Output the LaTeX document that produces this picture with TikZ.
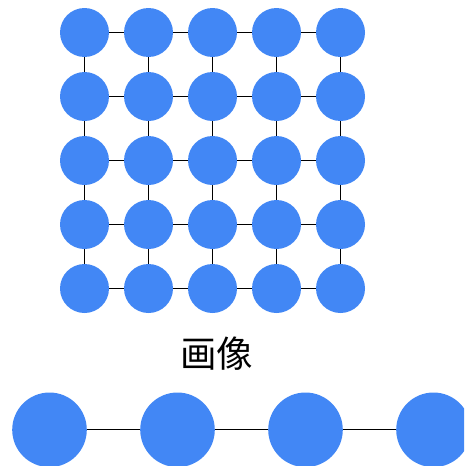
\documentclass[tikz,border=0pt]{standalone}
\usepackage{fontspec}
\newfontfamily\cjk{Noto Sans CJK SC}
\definecolor{nodeblue}{RGB}{66,135,245}
\begin{document}
\begin{tikzpicture}[x=1pt,y=-1pt,
  small/.style={circle,fill=nodeblue,draw=none,minimum size=49pt,inner sep=0pt},
  big/.style={circle,fill=nodeblue,draw=none,minimum size=74.6pt,inner sep=0pt},
  edge/.style={draw=black,line width=1.3pt}]
\useasboundingbox (0,0) rectangle (464,466);
\begin{scope}
\clip (0,0) rectangle (464,466);
\foreach \i in {0,...,4}{
  \foreach \j in {0,...,4}{
    \node[small] (g\i\j) at ({84.5+64*\i},{32.5+64*\j}) {};
  }
}
\foreach \i in {0,...,4}{
  \foreach \j [evaluate=\j as \jn using int(\j+1)] in {0,...,3}{
    \path[edge] (g\i\j) -- (g\i\jn);
    \path[edge] (g\j\i) -- (g\jn\i);
  }
}
\foreach \k in {0,...,3}{
  \node[big] (b\k) at ({49.5+128*\k},429.8) {};
}
\foreach \k [evaluate=\k as \kn using int(\k+1)] in {0,1,2}{
  \path[edge] (b\k) -- (b\kn);
}
\end{scope}
\node[font=\cjk\fontsize{36.5pt}{40pt}\selectfont,inner sep=0pt] (label) at (216.5,353.5) {画像};
\end{tikzpicture}
\end{document}
